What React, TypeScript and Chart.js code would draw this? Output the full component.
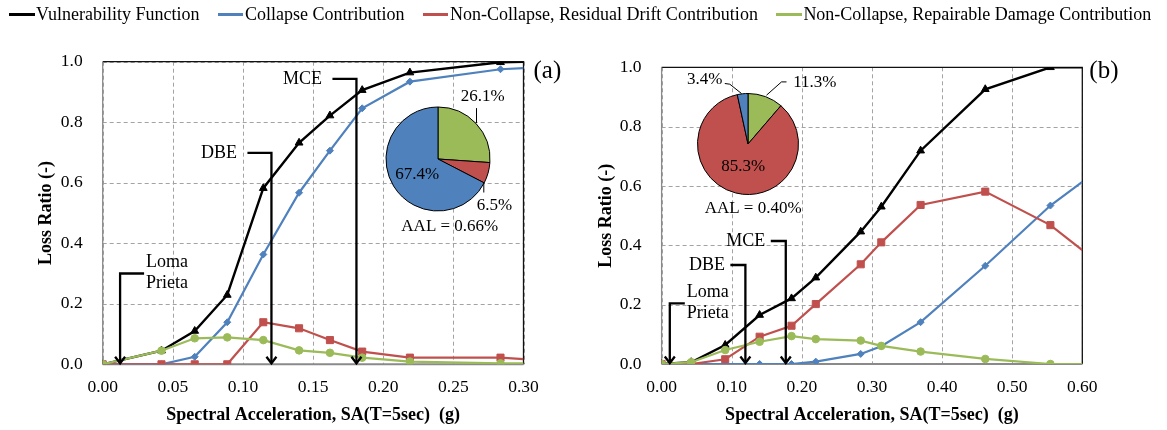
import React, { useEffect, useRef } from "react";
import { Chart, registerables } from "chart.js";

Chart.register(...registerables);

const FONT = '"Liberation Serif", "Times New Roman", serif';

// ---------- shared legend ----------
const SERIES_NAMES = [
  "Vulnerability Function",
  "Collapse Contribution",
  "Non-Collapse, Residual Drift Contribution",
  "Non-Collapse, Repairable Damage Contribution",
];
const SERIES_COLORS = ["#000000", "#4F81BD", "#C0504D", "#9BBB59"];

const X_TITLE = "Spectral Acceleration, SA(T=5sec)  (g)";
const Y_TITLE = "Loss Ratio (-)";

// ---------- panel (a) ----------
const saA = [0, 0.0419, 0.0656, 0.0888, 0.1145, 0.14, 0.162, 0.185, 0.219, 0.2836, 0.3];
const vulnA = [0, 0.045, 0.11, 0.229, 0.582, 0.732, 0.822, 0.906, 0.964, 0.998, 1.0];
const collapseA = [0, 0, 0.025, 0.139, 0.363, 0.567, 0.706, 0.846, 0.934, 0.975, 0.979];
const residualA = [0, 0, 0, 0, 0.139, 0.119, 0.08, 0.042, 0.022, 0.022, 0.017];
const repairA = [0, 0.045, 0.086, 0.089, 0.08, 0.046, 0.038, 0.022, 0.009, 0.003, 0.003];

// ---------- panel (b) ----------
const saB = [0, 0.0422, 0.0907, 0.1398, 0.1853, 0.2199, 0.284, 0.3133, 0.3694, 0.4616, 0.5545, 0.6];
const vulnB = [0, 0.006, 0.064, 0.165, 0.221, 0.291, 0.446, 0.53, 0.719, 0.926, 1.0, 1.0];
const collapseB = [0, 0, 0, 0, 0, 0.008, 0.034, 0.06, 0.141, 0.331, 0.534, 0.614];
const residualB = [0, 0, 0.016, 0.092, 0.129, 0.202, 0.336, 0.41, 0.536, 0.581, 0.468, 0.384];
const repairB = [0, 0.006, 0.047, 0.075, 0.094, 0.084, 0.079, 0.061, 0.042, 0.017, 0, 0];

// ---------- hazard levels (arrows) ----------
const EVENT_NAMES = ["Loma Prieta", "DBE", "MCE"];
const eventSaA = [0.0124, 0.1203, 0.1809];
const eventTopA = [0.3, 0.699, 0.943];
const eventSaB = [0.0117, 0.1195, 0.1771];
const eventTopB = [0.2046, 0.3337, 0.4146];

// ---------- AAL pies (order: repairable, residual, collapse) ----------
const PIE_CATEGORIES = ["Non-Collapse, Repairable Damage", "Non-Collapse, Residual Drift", "Collapse"];
const PIE_COLORS = ["#9BBB59", "#C0504D", "#4F81BD"];
const pieA = [26.1, 6.5, 67.4];
const pieB = [11.3, 85.3, 3.4];
const aalA = 0.66;
const aalB = 0.4;

// ---------- layout (styles only) ----------
const layoutA = {
  canvasLeft: 0, canvasWidth: 583, yAxisWidth: 102.7, padTop: 61.7, padRight: 59.5,
  xAxisHeight: 65.7, yTitlePad: 36, hLen: 24, textGap: 10.5, labelDx: 10, labelDy: 9.3,
  xMax: 0.3, xStep: 0.05, panel: "(a)",
};
const layoutB = {
  canvasLeft: 583, canvasWidth: 584, yAxisWidth: 78.6, padTop: 67.3, padRight: 84.7,
  xAxisHeight: 66, yTitlePad: 12.8, hLen: 15, textGap: 5.5, labelDx: 7, labelDy: 3.7,
  xMax: 0.6, xStep: 0.1, panel: "(b)",
};

const pieLayoutA = {
  cx: 437.5, cy: 159.2, r: 52,
  offsets: [[44.8, -62.5], [56.5, 46.8], [-20.8, 15.8]],
  aalOffset: [11.8, 67.5],
  leaders: [
    [[38.5, -50.9], [38.5, -35.9]],
    [[45.8, 23.5], [45.8, 33.5]],
  ],
};
const pieLayoutB = {
  cx: 748.2, cy: 143.8, r: 50.5,
  offsets: [[66.8, -61.5], [-4.9, 22.2], [-43.2, -64.8]],
  aalOffset: [5.1, 64.5],
  leaders: [
    [[38.5, -62.1], [33.5, -62.1], [18.5, -48.8]],
    [[-23.2, -60.5], [-18.2, -59.8], [-6.5, -50.5]],
  ],
};

function framePlugin() {
  return {
    id: "frameGrid",
    beforeDatasetsDraw(chart: any) {
      const { ctx, chartArea } = chart;
      const { left, right, top, bottom } = chartArea;
      const xs = chart.scales.x;
      const ys = chart.scales.y;
      ctx.save();
      ctx.strokeStyle = "#a3a3a3";
      ctx.lineWidth = 1;
      ctx.setLineDash([4, 3]);
      xs.ticks.forEach((t: any) => {
        const px = Math.round(xs.getPixelForValue(t.value)) + 0.5;
        ctx.beginPath();
        ctx.moveTo(px, top);
        ctx.lineTo(px, bottom);
        ctx.stroke();
      });
      ys.ticks.forEach((t: any) => {
        const py = Math.round(ys.getPixelForValue(t.value)) + 0.5;
        ctx.beginPath();
        ctx.moveTo(left, py);
        ctx.lineTo(right, py);
        ctx.stroke();
      });
      ctx.setLineDash([]);
      ctx.strokeStyle = "#111";
      ctx.lineWidth = 1.3;
      ctx.beginPath();
      ctx.moveTo(left, top);
      ctx.lineTo(right, top);
      ctx.lineTo(right, bottom);
      ctx.stroke();
      ctx.strokeStyle = "#8a8a8a";
      ctx.lineWidth = 1.3;
      ctx.beginPath();
      ctx.moveTo(left, top);
      ctx.lineTo(left, bottom);
      ctx.stroke();
      ctx.lineWidth = 2;
      ctx.beginPath();
      ctx.moveTo(left, bottom);
      ctx.lineTo(right, bottom);
      ctx.stroke();
      ctx.restore();
    },
  };
}

function eventPlugin(sas: number[], tops: number[], L: any) {
  return {
    id: "events",
    afterDatasetsDraw(chart: any) {
      const { ctx } = chart;
      const xs = chart.scales.x;
      const ys = chart.scales.y;
      ctx.save();
      ctx.strokeStyle = "#000";
      ctx.fillStyle = "#000";
      ctx.lineWidth = 2.3;
      ctx.font = `18px ${FONT}`;
      ctx.textBaseline = "middle";
      EVENT_NAMES.forEach((name, i) => {
        const x = xs.getPixelForValue(sas[i]);
        const yt = ys.getPixelForValue(tops[i]);
        const yb = ys.getPixelForValue(0);
        const toRight = i === 0;
        const x2 = toRight ? x + L.hLen : x - L.hLen;
        ctx.beginPath();
        ctx.moveTo(x2, yt);
        ctx.lineTo(x, yt);
        ctx.lineTo(x, yb - 1);
        ctx.stroke();
        ctx.beginPath();
        ctx.moveTo(x - 5, yb - 7.5);
        ctx.lineTo(x, yb - 1);
        ctx.lineTo(x + 5, yb - 7.5);
        ctx.stroke();
        if (toRight) {
          const words = name.split(" ");
          ctx.textAlign = "left";
          ctx.fillText(words[0], x2 + 2, yt - 11);
          ctx.fillText(words[1], x2 + 2, yt + 10);
        } else {
          ctx.textAlign = "right";
          ctx.fillText(name, x2 - L.textGap, yt);
        }
      });
      ctx.font = `25px ${FONT}`;
      ctx.textAlign = "left";
      ctx.fillText(L.panel, chart.chartArea.right + L.labelDx, chart.chartArea.top + L.labelDy);
      ctx.restore();
    },
  };
}

function makeDataset(label: string, sa: number[], ys: number[], color: string, style: string, r: number, bw: number, order: number) {
  const last = sa.length - 1;
  return {
    label,
    data: sa.map((x, i) => ({ x, y: ys[i] })),
    borderColor: color,
    backgroundColor: color,
    borderWidth: bw,
    pointStyle: style,
    pointRadius: sa.map((_, i) => (i === last ? 0 : r)),
    pointBorderWidth: 1,
    pointBorderColor: color,
    pointBackgroundColor: color,
    tension: 0,
    order,
  };
}

function LossChart({ sa, vuln, collapse, residual, repair, sas, tops, L }: any) {
  const ref = useRef<HTMLCanvasElement>(null);
  useEffect(() => {
    const tickFont = { family: FONT, size: 17.5 };
    const titleFont = { family: FONT, size: 18, weight: "bold" as const };
    const chart = new Chart(ref.current!, {
      type: "line",
      data: {
        datasets: [
          makeDataset(SERIES_NAMES[0], sa, vuln, SERIES_COLORS[0], "triangle", 4.5, 2.4, 4),
          makeDataset(SERIES_NAMES[1], sa, collapse, SERIES_COLORS[1], "rectRot", 3.5, 2.2, 3),
          makeDataset(SERIES_NAMES[2], sa, residual, SERIES_COLORS[2], "rect", 5, 2.2, 2),
          makeDataset(SERIES_NAMES[3], sa, repair, SERIES_COLORS[3], "circle", 3.8, 2.2, 1),
        ] as any,
      },
      options: {
        responsive: false,
        animation: false,
        events: [],
        layout: { padding: { left: 0, top: L.padTop, right: L.padRight, bottom: 0 } },
        plugins: { legend: { display: false }, tooltip: { enabled: false } },
        scales: {
          x: {
            type: "linear",
            min: 0,
            max: L.xMax,
            ticks: {
              stepSize: L.xStep,
              autoSkip: false,
              maxRotation: 0,
              padding: 12.5,
              color: "#000",
              font: tickFont,
              callback: (v: any) => Number(v).toFixed(2),
            },
            grid: { display: false, drawTicks: false },
            border: { display: false },
            title: {
              display: true,
              text: X_TITLE,
              color: "#000",
              font: titleFont,
              padding: { top: 0, bottom: 4.2 },
            },
            afterFit: (s: any) => {
              s.height = L.xAxisHeight;
            },
          },
          y: {
            min: 0,
            max: 1,
            ticks: {
              stepSize: 0.2,
              padding: 20,
              color: "#000",
              font: tickFont,
              callback: (v: any) => Number(v).toFixed(1),
            },
            grid: { display: false, drawTicks: false },
            border: { display: false },
            title: {
              display: true,
              text: Y_TITLE,
              color: "#000",
              font: titleFont,
              padding: { top: L.yTitlePad, bottom: 0 },
            },
            afterFit: (s: any) => {
              s.width = L.yAxisWidth;
            },
          },
        },
      } as any,
      plugins: [framePlugin(), eventPlugin(sas, tops, L)],
    });
    return () => chart.destroy();
  }, []);
  return (
    <canvas
      ref={ref}
      width={L.canvasWidth}
      height={430}
      style={{ position: "absolute", left: L.canvasLeft, top: 0, width: L.canvasWidth, height: 430 }}
    />
  );
}

function PieInset({ values, aal, P }: any) {
  const ref = useRef<HTMLCanvasElement>(null);
  const size = 200;
  useEffect(() => {
    const labelPlugin = {
      id: "pieLabels",
      afterDraw(chart: any) {
        const { ctx } = chart;
        const arc = chart.getDatasetMeta(0).data[0];
        const cx = arc.x;
        const cy = arc.y;
        ctx.save();
        ctx.strokeStyle = "#000";
        ctx.lineWidth = 1;
        P.leaders.forEach((pts: number[][]) => {
          ctx.beginPath();
          pts.forEach((p, k) => (k === 0 ? ctx.moveTo(cx + p[0], cy + p[1]) : ctx.lineTo(cx + p[0], cy + p[1])));
          ctx.stroke();
        });
        ctx.fillStyle = "#000";
        ctx.font = `17px ${FONT}`;
        ctx.textAlign = "center";
        ctx.textBaseline = "middle";
        values.forEach((v: number, i: number) => {
          ctx.fillText(v.toFixed(1) + "%", cx + P.offsets[i][0], cy + P.offsets[i][1]);
        });
        ctx.fillText(`AAL = ${aal.toFixed(2)}%`, cx + P.aalOffset[0], cy + P.aalOffset[1]);
        ctx.restore();
      },
    };
    const pad = (size - (2 * P.r + 1)) / 2;
    const chart = new Chart(ref.current!, {
      type: "pie",
      data: {
        labels: PIE_CATEGORIES,
        datasets: [
          {
            data: values,
            backgroundColor: PIE_COLORS,
            borderColor: "#000",
            borderWidth: 1,
            hoverBorderWidth: 1,
            offset: 0,
            hoverOffset: 0,
          } as any,
        ],
      },
      options: {
        responsive: false,
        animation: false,
        events: [],
        layout: { padding: pad },
        plugins: { legend: { display: false }, tooltip: { enabled: false } },
      } as any,
      plugins: [labelPlugin],
    });
    return () => chart.destroy();
  }, []);
  return (
    <canvas
      ref={ref}
      width={size}
      height={size}
      style={{ position: "absolute", left: P.cx - size / 2, top: P.cy - size / 2, width: size, height: size }}
    />
  );
}

export default function App() {
  return (
    <div
      style={{
        position: "absolute",
        left: 0,
        top: 0,
        width: 1167,
        height: 430,
        overflow: "hidden",
        background: "#fff",
      }}
    >
      <LossChart
        sa={saA}
        vuln={vulnA}
        collapse={collapseA}
        residual={residualA}
        repair={repairA}
        sas={eventSaA}
        tops={eventTopA}
        L={layoutA}
      />
      <LossChart
        sa={saB}
        vuln={vulnB}
        collapse={collapseB}
        residual={residualB}
        repair={repairB}
        sas={eventSaB}
        tops={eventTopB}
        L={layoutB}
      />
      <PieInset values={pieA} aal={aalA} P={pieLayoutA} />
      <PieInset values={pieB} aal={aalB} P={pieLayoutB} />
      <div
        style={{
          position: "absolute",
          left: 9,
          top: 4,
          height: 20,
          display: "flex",
          alignItems: "center",
          gap: 18.5,
          fontFamily: FONT,
          fontSize: 18,
          lineHeight: "20px",
          color: "#000",
          whiteSpace: "nowrap",
        }}
      >
        {SERIES_NAMES.map((name, i) => (
          <div key={name} style={{ display: "flex", alignItems: "center" }}>
            <span
              style={{
                display: "inline-block",
                width: 25.5,
                height: 3,
                background: SERIES_COLORS[i],
                marginRight: 1.5,
              }}
            />
            <span>{name}</span>
          </div>
        ))}
      </div>
    </div>
  );
}
